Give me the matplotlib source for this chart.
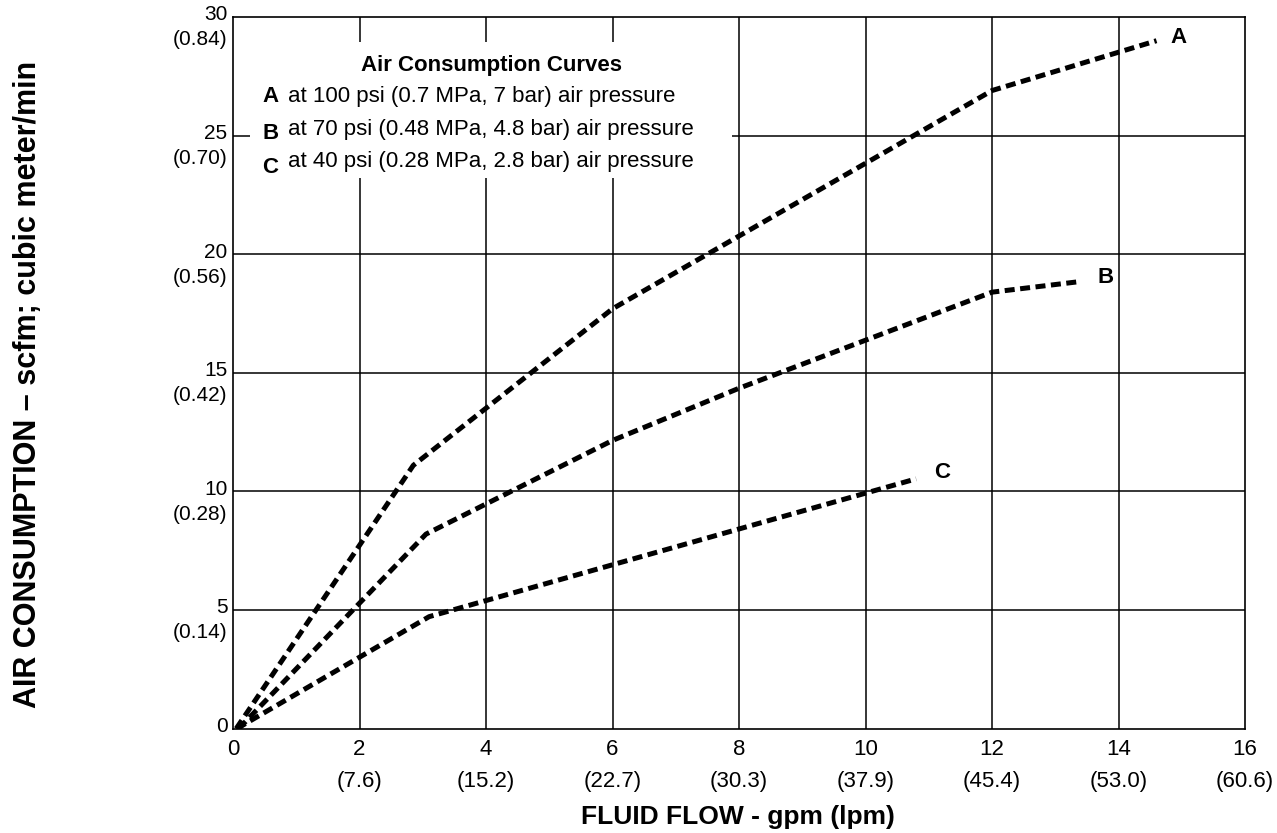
import matplotlib
matplotlib.use("Agg")
import matplotlib.pyplot as plt
import matplotlib.transforms as mtransforms
from matplotlib.patches import Rectangle

# curve data (gpm vs scfm)
flow_a = [0.05, 2.85, 6.0, 12.0, 14.6]
air_a = [0.0, 11.1, 17.7, 26.9, 29.0]
flow_b = [0.09, 3.05, 6.0, 8.0, 12.0, 13.4]
air_b = [0.0, 8.2, 12.15, 14.35, 18.4, 18.85]
flow_c = [0.06, 3.1, 10.8]
air_c = [0.0, 4.72, 10.53]

curve_names = ["A", "B", "C"]
legend_lines = ["at 100 psi (0.7 MPa, 7 bar) air pressure",
                "at 70 psi (0.48 MPa, 4.8 bar) air pressure",
                "at 40 psi (0.28 MPa, 2.8 bar) air pressure"]

x_ticks = [0, 2, 4, 6, 8, 10, 12, 14, 16]
x_lpm = ["", "(7.6)", "(15.2)", "(22.7)", "(30.3)", "(37.9)", "(45.4)", "(53.0)", "(60.6)"]
y_ticks = [0, 5, 10, 15, 20, 25, 30]
y_m3 = ["", "(0.14)", "(0.28)", "(0.42)", "(0.56)", "(0.70)", "(0.84)"]

SANS = ["Liberation Sans", "DejaVu Sans"]
plt.rcParams["font.family"] = SANS

fig = plt.figure(figsize=(12.77, 8.33), dpi=100)
ax = fig.add_axes([0.1825, 0.1253, 0.7925, 0.8543])

ax.set_xlim(0, 16)
ax.set_ylim(0, 30)

# grid
for gx in x_ticks[1:-1]:
    ax.axvline(gx, color="black", lw=1.1, zorder=1)
for gy in y_ticks[1:-1]:
    ax.axhline(gy, color="black", lw=1.1, zorder=1)
for s in ax.spines.values():
    s.set_linewidth(1.2)

# legend box covers the grid
ax.add_patch(Rectangle((0.27, 23.23), 7.62, 5.7, facecolor="white",
                       edgecolor="none", zorder=2))

dash = dict(color="black", lw=3.6, linestyle=(0, (2.0, 1.1)),
            dash_capstyle="butt", zorder=3)
ax.plot(flow_a, air_a, **dash)
ax.plot(flow_b, air_b, **dash)
ax.plot(flow_c, air_c, **dash)

# curve letters
ax.text(14.94, 29.13, "A", fontsize=16, fontweight="bold", ha="center", va="center")
ax.text(13.79, 19.0, "B", fontsize=16, fontweight="bold", ha="center", va="center")
ax.text(11.21, 10.78, "C", fontsize=16, fontweight="bold", ha="center", va="center")

# legend text
ax.text(4.08, 27.96, "Air Consumption Curves", fontsize=16, fontweight="bold",
        ha="center", va="center", zorder=4)
for name, line, yy, dy in zip(curve_names, legend_lines, [26.65, 25.27, 23.9], [0, -0.2, -0.25]):
    ax.text(0.46, yy + dy, name, fontsize=16, fontweight="bold", ha="left", va="center", zorder=4)
    ax.text(0.87, yy, line, fontsize=16, ha="left", va="center", zorder=4)

# tick labels
ax.set_xticks(x_ticks)
ax.set_yticks(y_ticks)
ax.set_xticklabels([])
ax.set_yticklabels([])
ax.tick_params(length=0)

tx = mtransforms.blended_transform_factory(ax.transData, ax.transAxes)
for xv, lab in zip(x_ticks, x_lpm):
    ax.annotate(str(xv), (xv, 0), xycoords=tx, xytext=(0, -15), textcoords="offset points",
                ha="center", va="center", fontsize=16)
    if lab:
        ax.annotate(lab, (xv, 0), xycoords=tx, xytext=(0, -38), textcoords="offset points",
                    ha="center", va="center", fontsize=16)

ty = mtransforms.blended_transform_factory(ax.transAxes, ax.transData)
for yv, lab in zip(y_ticks, y_m3):
    ax.annotate(str(yv), (0, yv), xycoords=ty, xytext=(-4, 1.5), textcoords="offset points",
                ha="right", va="center", fontsize=15)
    if lab:
        ax.annotate(lab, (0, yv), xycoords=ty, xytext=(-4, -16.5), textcoords="offset points",
                    ha="right", va="center", fontsize=15)

fig.text(0.578, 0.019, "FLUID FLOW - gpm (lpm)", ha="center", va="center",
         fontsize=19, fontweight="bold")
fig.text(0.022, 0.538, "AIR CONSUMPTION \u2013 scfm; cubic meter/min", ha="center", va="center",
         rotation=90, fontsize=22, fontweight="bold")

fig.savefig("out.png", dpi=100)
